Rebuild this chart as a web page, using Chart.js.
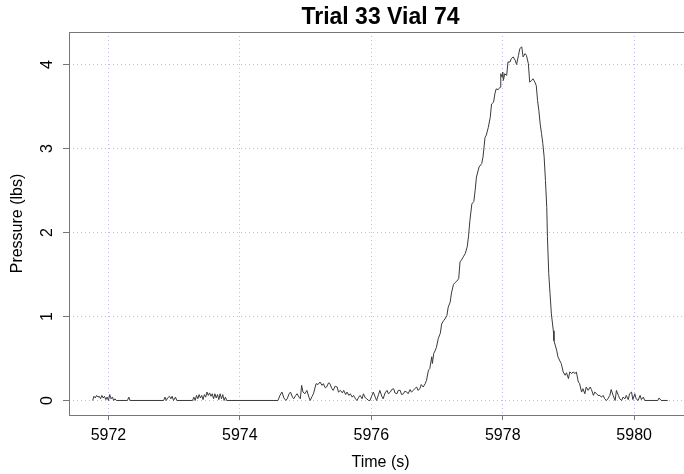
<!DOCTYPE html>
<html>
<head>
<meta charset="utf-8">
<script src="https://cdn.jsdelivr.net/npm/chart.js@4.4.1/dist/chart.umd.min.js"></script>
<style>
  html, body { margin: 0; padding: 0; background: #fff; overflow: hidden; }
  #wrap { position: relative; width: 684px; height: 474px; overflow: hidden; }
  canvas { position: absolute; left: 0; top: 0; }
</style>
</head>
<body>
<div id="wrap"><canvas id="c" width="692" height="474"></canvas></div>
<script>
// ---- Data (time in s, pressure in lbs) ----
// quiet baseline noise
const timeBase = [5971.76,5971.78,5971.80,5971.82,5971.84,5971.86,5971.88,5971.90,5971.92,5971.94,
  5971.96,5971.98,5972.00,5972.02,5972.04,5972.06,5972.08,5972.10,5972.12,5972.29,
  5972.31,5972.33,5972.84,5972.86,5972.88,5972.90,5972.93,5972.95,5972.97,5972.99,
  5973.02,5973.04,5973.28,5973.30,5973.32,5973.34,5973.36,5973.38,5973.40,5973.42,
  5973.44,5973.46,5973.48,5973.50,5973.52,5973.54,5973.56,5973.58,5973.60,5973.62,
  5973.64,5973.66,5973.68,5973.70,5973.72,5973.74,5973.76,5973.78,5973.80];
const presBase = [0,0.05,0.03,0.06,0.04,0.05,0.02,0.06,0.03,0.05,
  0.01,0.04,0,0.07,0.02,0.04,0,0.02,0,0,
  0.04,0,0,0.04,0,0.03,0.05,0.02,0.05,0,
  0.04,0,0,0.04,0,0.06,0.02,0.07,0.03,0.06,
  0.01,0.07,0.04,0.10,0.06,0.09,0.05,0.08,0.02,0.08,
  0.03,0.07,0.01,0.08,0.02,0.07,0,0.04,0];
// small hump
const timeHump = [5974.58,5974.61,5974.64,5974.67,5974.70,5974.72,5974.75,5974.77,5974.80,5974.82,
  5974.85,5974.87,5974.90,5974.92,5974.94,5974.96,5974.99,5975.02,5975.05,5975.07,
  5975.10,5975.12,5975.16,5975.19,5975.22,5975.25,5975.27,5975.30,5975.32,5975.35,
  5975.37,5975.40,5975.42,5975.45,5975.48,5975.50,5975.53,5975.56,5975.58,5975.61,
  5975.63,5975.66,5975.68,5975.71,5975.73,5975.76,5975.78,5975.81,5975.83,5975.86,
  5975.88,5975.91,5975.93,5975.96,5975.98];
const presHump = [0,0.06,0.10,0.03,0,0.02,0.08,0.10,0.04,0.02,
  0.06,0.08,0.04,0.02,0.18,0.10,0.08,0.12,0.04,0,
  0.05,0.08,0.20,0.19,0.22,0.18,0.20,0.15,0.16,0.21,
  0.20,0.14,0.12,0.17,0.16,0.10,0.12,0.09,0.12,0.07,
  0.10,0.06,0.08,0.04,0.06,0.02,0,0.04,0.06,0.02,
  0.08,0.03,0.02,0,0];
// rise and peak
const timeRise = [5976.01,5976.03,5976.06,5976.08,5976.11,5976.13,5976.16,5976.18,5976.21,5976.24,
  5976.26,5976.29,5976.31,5976.34,5976.36,5976.39,5976.41,5976.44,5976.46,5976.49,
  5976.51,5976.54,5976.56,5976.59,5976.61,5976.64,5976.66,5976.69,5976.71,5976.74,
  5976.76,5976.79,5976.82,5976.84,5976.87,5976.89,5976.92,5976.93,5976.95,5976.97,
  5976.99,5977.02,5977.05,5977.07,5977.10,5977.12,5977.15,5977.17,5977.20,5977.22,
  5977.25,5977.27,5977.30,5977.33,5977.35,5977.37,5977.40,5977.43,5977.46,5977.48,
  5977.50,5977.53,5977.56,5977.58,5977.60,5977.64,5977.68,5977.70,5977.73,5977.75,
  5977.78,5977.81,5977.83,5977.86,5977.88,5977.90,5977.93,5977.96,5977.97,5977.99,
  5978.00,5978.01,5978.03,5978.06,5978.08,5978.11,5978.13,5978.16,5978.19,5978.21,
  5978.24,5978.26,5978.29,5978.31,5978.34,5978.36,5978.39];
const presRise = [0.06,0.10,0.04,0,0.07,0.12,0.05,0.02,0.09,0.12,
  0.08,0.10,0.13,0.14,0.09,0.08,0.12,0.12,0.07,0.08,
  0.11,0.10,0.08,0.13,0.10,0.12,0.14,0.16,0.12,0.14,
  0.19,0.16,0.20,0.24,0.36,0.38,0.52,0.44,0.56,0.59,
  0.63,0.74,0.80,0.91,0.95,0.97,1.01,1.11,1.17,1.28,
  1.38,1.40,1.42,1.45,1.65,1.67,1.71,1.75,1.83,1.96,
  2.14,2.34,2.37,2.50,2.66,2.78,2.82,2.90,3.13,3.16,
  3.25,3.37,3.53,3.55,3.65,3.71,3.70,3.73,3.89,3.85,
  3.91,3.81,3.89,3.87,4.03,4.03,4.07,4.09,4.05,4.00,
  4.11,4.19,4.21,4.09,4.13,4.11,4.01];
// fall and tail
const timeFall = [5978.41,5978.44,5978.46,5978.49,5978.51,5978.53,5978.55,5978.57,5978.59,5978.61,
  5978.63,5978.65,5978.67,5978.68,5978.70,5978.72,5978.74,5978.77,5978.78,5978.82,
  5978.84,5978.87,5978.89,5978.92,5978.95,5978.97,5979.00,5979.02,5979.05,5979.07,
  5979.10,5979.12,5979.15,5979.17,5979.20,5979.22,5979.25,5979.27,5979.30,5979.33,
  5979.35,5979.38,5979.40,5979.43,5979.45,5979.48,5979.50,5979.53,5979.55,5979.58,
  5979.60,5979.63,5979.65,5979.68,5979.71,5979.73,5979.76,5979.78,5979.81,5979.83,
  5979.86,5979.88,5979.91,5979.93,5979.96,5979.98,5980.01,5980.03,5980.06,5980.09,
  5980.11,5980.14,5980.16,5980.36,5980.38,5980.41,5980.51];
const presFall = [3.79,3.81,3.83,3.79,3.75,3.57,3.45,3.29,3.18,3.06,
  2.90,2.62,2.30,1.95,1.51,1.27,1.03,0.83,0.71,0.60,
  0.52,0.47,0.44,0.34,0.30,0.33,0.26,0.34,0.32,0.34,
  0.32,0.34,0.22,0.20,0.10,0.14,0.08,0.16,0.12,0.16,
  0.13,0.06,0.10,0.08,0.06,0.06,0.04,0.06,0.02,0,
  0.02,0.06,0.13,0.06,0,0.12,0.06,0.02,0,0.04,
  0.02,0.06,0.01,0.08,0.10,0.01,0.08,0.02,0,0.06,
  0.01,0.04,0,0,0.03,0,0];

const xTicks = [5972, 5974, 5976, 5978, 5980];
const yTicks = [0, 1, 2, 3, 4];
const titleText = "Trial 33 Vial 74";
const xLabel = "Time (s)";
const yLabel = "Pressure (lbs)";

// ---- build ----
const times = timeBase.concat(timeHump, timeRise, timeFall);
const pressures = presBase.concat(presHump, presRise, presFall);
const points = times.map((t, i) => ({ x: t, y: pressures[i] }));

const FONT = "'Liberation Sans', Arial, Helvetica, sans-serif";
const AXIS_GRAY = '#777777';
const GRID_COLOR = '#bcbcee';

const boxAndLabels = {
  id: 'boxAndLabels',
  afterDraw(chart) {
    const { ctx, chartArea: a } = chart;
    ctx.save();
    ctx.strokeStyle = AXIS_GRAY;
    ctx.lineWidth = 1;
    ctx.strokeRect(Math.round(a.left) + 0.5, Math.round(a.top) + 0.5,
                   Math.round(a.right - a.left), Math.round(a.bottom - a.top));
    // rotated y tick labels (R style)
    const ys = chart.scales.y;
    ctx.fillStyle = '#000';
    ctx.font = '16px ' + FONT;
    ctx.textAlign = 'center';
    ctx.textBaseline = 'middle';
    yTicks.forEach(v => {
      const py = ys.getPixelForValue(v);
      ctx.save();
      ctx.translate(48, py);
      ctx.rotate(-Math.PI / 2);
      ctx.fillText(String(v), 0, 0);
      ctx.restore();
    });
    ctx.restore();
  }
};

new Chart(document.getElementById('c'), {
  type: 'line',
  data: {
    datasets: [{
      data: points,
      borderColor: '#3a3a3a',
      borderWidth: 1,
      pointRadius: 0,
      tension: 0,
      fill: false
    }]
  },
  options: {
    responsive: false,
    devicePixelRatio: 1,
    animation: false,
    layout: { padding: 0 },
    plugins: {
      legend: { display: false },
      tooltip: { enabled: false },
      title: {
        display: true,
        text: titleText,
        fullSize: false,
        color: '#000',
        font: { family: FONT, size: 23, weight: 'bold', lineHeight: 1 },
        padding: { top: 6, bottom: 3 }
      }
    },
    scales: {
      x: {
        type: 'linear',
        min: 5971.40,
        max: 5980.88,
        afterBuildTicks: s => { s.ticks = xTicks.map(v => ({ value: v })); },
        afterFit: s => { s.height = 59; },
        border: { display: false, dash: [1, 3] },
        grid: {
          color: GRID_COLOR,
          lineWidth: 1,
          drawTicks: true,
          tickLength: 5,
          tickColor: AXIS_GRAY,
          tickBorderDash: [],
          tickWidth: 1
        },
        ticks: {
          color: '#000',
          font: { family: FONT, size: 16 },
          padding: 6,
          maxRotation: 0,
          autoSkip: false,
          callback: v => String(v)
        },
        title: {
          display: true,
          text: xLabel,
          color: '#000',
          font: { family: FONT, size: 16 },
          padding: { top: 0, bottom: 2 }
        }
      },
      y: {
        type: 'linear',
        min: -0.173,
        max: 4.387,
        afterBuildTicks: s => { s.ticks = yTicks.map(v => ({ value: v })); },
        afterFit: s => { s.width = 69; },
        border: { display: false, dash: [1, 3] },
        grid: {
          color: GRID_COLOR,
          lineWidth: 1,
          drawTicks: true,
          tickLength: 6,
          tickColor: AXIS_GRAY,
          tickBorderDash: [],
          tickWidth: 1
        },
        ticks: {
          display: false
        },
        title: {
          display: true,
          text: yLabel,
          color: '#000',
          font: { family: FONT, size: 16 },
          padding: { top: 8, bottom: 0 }
        }
      }
    }
  },
  plugins: [boxAndLabels]
});
</script>
</body>
</html>
